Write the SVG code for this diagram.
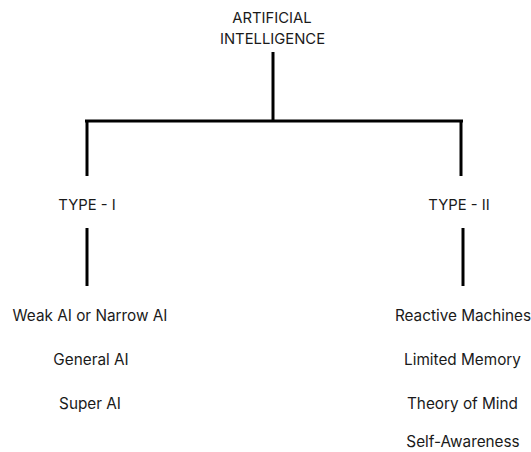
<svg xmlns="http://www.w3.org/2000/svg" width="531" height="452" viewBox="0 0 531 452">
<style>
text{font-family:Inter,"Liberation Sans",sans-serif;font-size:15.3px;fill:#1a1a1a;text-anchor:middle}
.top{font-size:14.8px}
.c line{stroke:#000;stroke-width:3;stroke-linecap:butt}
</style>
<rect width="531" height="452" fill="#fff"/>
<g id="connectors" class="c">
<line x1="273" y1="52" x2="273" y2="121"/>
<line x1="85" y1="121" x2="463" y2="121"/>
<line x1="87" y1="121" x2="87" y2="176"/>
<line x1="461" y1="121" x2="461" y2="176"/>
<line x1="87" y1="228" x2="87" y2="286"/>
<line x1="463" y1="228" x2="463" y2="286"/>
</g>
<g id="ai"><text class="top" x="272" y="23">ARTIFICIAL</text><text class="top" x="272.5" y="44">INTELLIGENCE</text></g>
<g id="type1"><text class="top" x="87" y="210">TYPE - I</text></g>
<g id="type2"><text class="top" x="459" y="210">TYPE - II</text></g>
<g id="weak"><text x="90" y="321">Weak AI or Narrow AI</text></g>
<g id="general"><text x="91" y="365">General AI</text></g>
<g id="super"><text x="90" y="409">Super AI</text></g>
<g id="reactive"><text x="463" y="321">Reactive Machines</text></g>
<g id="limited"><text x="462.5" y="365">Limited Memory</text></g>
<g id="theory"><text x="462.5" y="409">Theory of Mind</text></g>
<g id="self"><text x="463" y="447">Self-Awareness</text></g>
</svg>
